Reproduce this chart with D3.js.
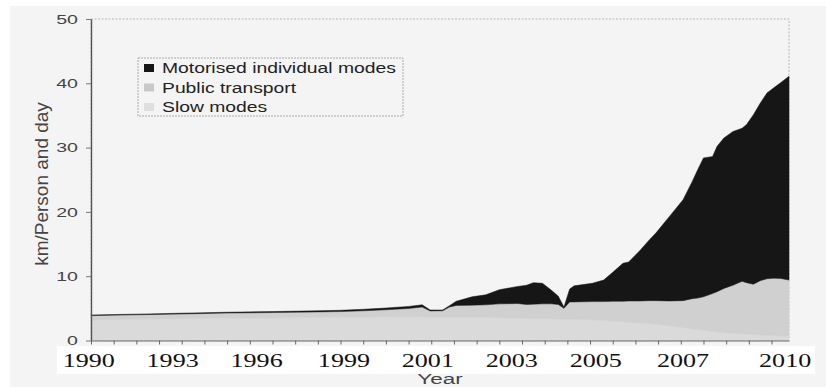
<!DOCTYPE html>
<html><head><meta charset="utf-8">
<script src="https://cdn.jsdelivr.net/npm/d3@7"></script>
<style>html,body{margin:0;padding:0;background:#fff;}svg{display:block;}</style>
</head><body>
<svg id="c" width="826" height="387"></svg>
<script>
// ---- data (x = position along the time axis, in tick units from 1990) ----
const period = [0,2,4,6,8,10,11,12,13,14,14.6,14.95,15.5,15.8,16.1,16.8,17.4,18.0,18.8,19.2,19.5,19.9,20.3,20.6,20.85,21.1,21.3,22.1,22.6,23.0,23.45,23.7,24.2,24.6,24.9,25.5,26.1,26.5,26.75,27.0,27.4,27.6,27.9,28.3,28.7,28.9,29.2,29.5,29.8,30.1,30.4,30.77];
const slowModes = [3.2,3.3,3.4,3.5,3.5,3.6,3.6,3.6,3.7,3.7,3.7,3.6,3.6,3.6,3.6,3.6,3.6,3.5,3.5,3.4,3.4,3.4,3.4,3.3,3.3,3.3,3.3,3.2,3.1,3.0,2.9,2.8,2.7,2.6,2.5,2.3,2.0,1.8,1.7,1.6,1.4,1.3,1.2,1.1,1.0,0.95,0.9,0.85,0.8,0.75,0.7,0.7];
const publicTransport = [0.67,0.7,0.73,0.77,0.85,0.85,0.9,1.02,1.08,1.28,1.5,1.0,1.02,1.6,1.85,1.9,1.95,2.2,2.25,2.2,2.25,2.3,2.3,2.3,1.7,2.7,2.7,2.85,2.95,3.1,3.2,3.35,3.45,3.6,3.7,3.85,4.2,4.7,4.9,5.2,5.9,6.3,6.9,7.5,8.2,8.05,7.85,8.45,8.8,8.95,8.95,8.7];
const motorised = [0.1,0.1,0.12,0.13,0.15,0.17,0.2,0.23,0.27,0.32,0.35,0.15,0.13,0.2,0.65,1.3,1.55,2.2,2.65,3.0,3.35,3.2,2.1,1.3,0.2,2.0,2.5,2.85,3.35,4.5,5.9,6.05,7.85,9.4,10.5,13.15,15.7,18.2,20.0,21.6,21.3,22.6,23.4,23.9,23.8,24.6,26.35,27.6,28.9,29.6,30.45,31.7];
const seriesNames = ["Slow modes","Public transport","Motorised individual modes"];
const yTicks = [0,10,20,30,40,50];
const xTickCount = 31;
const xLabels = ["1990","1993","1996","1999","2001","2003","2005","2007","2010"];
const xLabelPos = [-0.1,3.6,7.3,11.15,14.85,18.55,22.25,26.1,30.6];

// ---- chart ----
const svg = d3.select("#c");
const colors = {"Slow modes":"#dadada","Public transport":"#d0d0d0","Motorised individual modes":"#161616"};

svg.append("rect").attr("x",10).attr("y",6).attr("width",816).attr("height",381).attr("fill","#f4f4f4");

const x = d3.scaleLinear().domain([0, 30.77]).range([91, 789]);
const y = d3.scaleLinear().domain([0, 50]).range([340.5, 19]);

// plot frame (dotted)
svg.append("rect").attr("x",x(0)).attr("y",y(50)).attr("width",x(30.77)-x(0)).attr("height",y(0)-y(50))
  .attr("fill","none").attr("stroke","#aaa").attr("stroke-width",0.8).attr("stroke-dasharray","2,1.5");

const rows = period.map((p,i)=>({p, "Slow modes":slowModes[i], "Public transport":publicTransport[i], "Motorised individual modes":motorised[i]}));
const stack = d3.stack().keys(seriesNames)(rows);
const area = d3.area().x(d=>x(d.data.p)).y0(d=>y(d[0])).y1(d=>y(d[1])).curve(d3.curveLinear);
svg.append("g").selectAll("path").data(stack).join("path")
  .attr("d",area).attr("fill",d=>colors[d.key])
  .attr("stroke",d=>colors[d.key]).attr("stroke-width",0.5);

// y axis
const ya = svg.append("g").attr("transform",`translate(${x(0)},0)`)
  .call(d3.axisLeft(y).tickValues(yTicks).tickSize(5).tickSizeOuter(0));
ya.select(".domain").attr("stroke","#555").attr("stroke-width",1.4);
ya.selectAll(".tick line").attr("stroke","#777");
ya.selectAll(".tick text").attr("x",-9).attr("transform","scale(1.45,1)")
  .attr("fill","#444").style("font-family","'Liberation Sans',Arial,sans-serif").style("font-size","13.5px");

// x axis
const xa = svg.append("g").attr("transform",`translate(0,${y(0)})`)
  .call(d3.axisBottom(x).tickValues(d3.range(0,xTickCount)).tickSize(4).tickSizeOuter(0).tickFormat(""));
xa.select(".domain").attr("stroke","#666").attr("stroke-width",1);
xa.selectAll(".tick line").attr("stroke","#666");

// white band under x labels
svg.append("rect").attr("x",57).attr("y",346).attr("width",758).attr("height",28).attr("fill","#fff");
svg.append("g").selectAll("text").data(xLabels).join("text")
  .attr("transform",(d,i)=>`translate(${x(xLabelPos[i])},367) scale(1.45,1)`)
  .attr("text-anchor","middle").attr("fill","#111")
  .style("font-family","'Liberation Serif','Times New Roman',serif").style("font-size","18px")
  .text(d=>d);

// axis titles
svg.append("text").attr("transform","translate(440,384) scale(1.5,1)").attr("text-anchor","middle")
  .attr("fill","#444").style("font-family","'Liberation Sans',Arial,sans-serif").style("font-size","15px").text("Year");
svg.append("text").attr("transform","translate(48,184) rotate(-90)").attr("text-anchor","middle")
  .attr("fill","#444").style("font-family","'Liberation Sans',Arial,sans-serif").style("font-size","19px").text("km/Person and day");

// legend
const lg = svg.append("g");
lg.append("rect").attr("x",138).attr("y",58).attr("width",265).attr("height",58)
  .attr("fill","#f4f4f4").attr("stroke","#999").attr("stroke-width",0.8).attr("stroke-dasharray","2,1");
const legendOrder = ["Motorised individual modes","Public transport","Slow modes"];
legendOrder.forEach((k,i)=>{
  const by = 73 + i*19.5;
  lg.append("rect").attr("x",144).attr("y",by-9).attr("width",10).attr("height",8).attr("fill", k==="Motorised individual modes" ? "#161616" : (k==="Public transport" ? "#c9c9c9" : "#dedede"));
  lg.append("text").attr("transform",`translate(162,${by}) scale(1.38,1)`)
    .attr("fill","#222").style("font-family","'Liberation Sans',Arial,sans-serif").style("font-size","14px").text(k);
});
</script>
</body></html>
